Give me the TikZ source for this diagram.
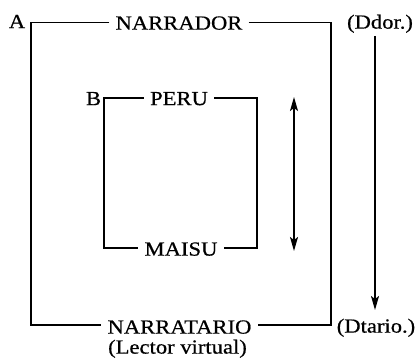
\documentclass[tikz,border=0pt]{standalone}
\usepackage{fontspec}
\setmainfont[FakeStretch=1.13,FakeBold=0.6]{Liberation Serif}
\usetikzlibrary{arrows.meta}
\begin{document}
\begin{tikzpicture}[x=1pt,y=-1pt,
  lbl/.style={font=\fontsize{20}{23}\selectfont, inner sep=0pt, text height=13.2pt, text depth=0pt},
  ln/.style={line width=1.3pt},
  tip/.tip={Stealth[length=14pt,width=8pt,inset=3pt]},
  arr/.style={line width=1.5pt, -tip},
  darr/.style={line width=1.5pt, tip-tip}]
\useasboundingbox (0,0) rectangle (418,358);
% outer frame
\node[lbl] (A) at (17,21.5) {A};
\node[lbl] (narrador) at (179,23) {NARRADOR};
\node[lbl] (ddor) at (380,22) {(Ddor.)};
\node[lbl] (narratario) at (179.5,327) {NARRATARIO};
\node[lbl] (dtario) at (376,326) {(Dtario.)};
\node[lbl] (lector) at (177.5,347) {(Lector virtual)};
\coordinate (oTL) at (31,22.7);
\coordinate (oTR) at (331,22.7);
\coordinate (oBL) at (31,325);
\coordinate (oBR) at (331,325);
\draw[ln] ([xshift=-6pt]narrador.west |- oTL) -- (oTL) -- (oBL) -- ([xshift=-6pt]narratario.west |- oBL);
\draw[ln] ([xshift=6pt]narrador.east |- oTR) -- (oTR) -- (oBR) -- ([xshift=6pt]narratario.east |- oBR);
% inner frame
\node[lbl] (B) at (93.5,98.5) {B};
\node[lbl] (peru) at (179,98.5) {PERU};
\node[lbl] (maisu) at (181,249) {MAISU};
\coordinate (iTL) at (104,98);
\coordinate (iTR) at (257,98);
\coordinate (iBL) at (104,248);
\coordinate (iBR) at (257,248);
\draw[ln] ([xshift=-6pt]peru.west |- iTL) -- (iTL) -- (iBL) -- ([xshift=-6pt]maisu.west |- iBL);
\draw[ln] ([xshift=6pt]peru.east |- iTR) -- (iTR) -- (iBR) -- ([xshift=6pt]maisu.east |- iBR);
% arrows
\coordinate (dTop) at (294,97);
\coordinate (dBot) at (294,251);
\draw[darr] (dTop) -- (dBot);
\coordinate (rTop) at (375,36);
\coordinate (rBot) at (375,310);
\draw[arr] (rTop) -- (rBot);
\end{tikzpicture}
\end{document}
